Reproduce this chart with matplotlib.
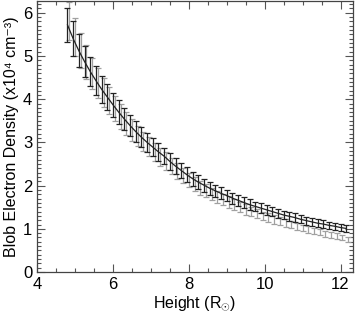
import matplotlib
matplotlib.use('Agg')
import matplotlib.pyplot as plt
from matplotlib.ticker import MultipleLocator

plt.rcParams['font.family'] = ['Liberation Sans', 'DejaVu Sans']
plt.rcParams['mathtext.fontset'] = 'custom'
plt.rcParams['mathtext.rm'] = 'Liberation Sans'
plt.rcParams['mathtext.it'] = 'Liberation Sans'

# black series (heights in solar radii, density in 1e4 cm^-3)
height_black = [4.80, 4.95, 5.10, 5.25, 5.40, 5.55, 5.70, 5.85, 6.00, 6.15,
                6.30, 6.45, 6.60, 6.75, 6.90, 7.05, 7.20, 7.35, 7.50, 7.65,
                7.80, 7.95, 8.10, 8.25, 8.40, 8.55, 8.70, 8.85, 9.00, 9.15,
                9.30, 9.45, 9.60, 9.75, 9.90, 10.05, 10.20, 10.35, 10.50, 10.65,
                10.80, 10.95, 11.10, 11.25, 11.40, 11.55, 11.70, 11.85, 12.00, 12.15]
density_black = [5.72, 5.40, 5.12, 4.87, 4.64, 4.43, 4.23, 4.05, 3.87, 3.70,
                 3.54, 3.39, 3.25, 3.12, 3.00, 2.89, 2.78, 2.68, 2.56, 2.45,
                 2.35, 2.25, 2.16, 2.08, 2.01, 1.94, 1.88, 1.82, 1.77, 1.71,
                 1.66, 1.61, 1.56, 1.52, 1.48, 1.44, 1.40, 1.36, 1.32, 1.29,
                 1.26, 1.22, 1.19, 1.16, 1.13, 1.11, 1.08, 1.06, 1.03, 1.01]
err_black = [0.40, 0.40, 0.38, 0.36, 0.34, 0.33, 0.31, 0.30, 0.28, 0.27,
             0.26, 0.25, 0.24, 0.23, 0.22, 0.21, 0.20, 0.19, 0.19, 0.18,
             0.17, 0.17, 0.16, 0.16, 0.15, 0.15, 0.14, 0.14, 0.13, 0.13,
             0.12, 0.12, 0.12, 0.11, 0.11, 0.11, 0.11, 0.10, 0.10, 0.10,
             0.10, 0.09, 0.09, 0.09, 0.09, 0.09, 0.08, 0.08, 0.08, 0.08]

# grey series
height_grey = [4.85, 5.00, 5.15, 5.30, 5.45, 5.60, 5.75, 5.90, 6.05, 6.20,
               6.35, 6.50, 6.65, 6.80, 6.95, 7.10, 7.25, 7.40, 7.55, 7.70,
               7.85, 8.00, 8.15, 8.30, 8.45, 8.60, 8.75, 8.90, 9.05, 9.20,
               9.35, 9.50, 9.65, 9.80, 9.95, 10.10, 10.25, 10.40, 10.55, 10.70,
               10.85, 11.00, 11.15, 11.30, 11.45, 11.60, 11.75, 11.90, 12.05, 12.20]
density_grey = [5.80, 5.44, 5.13, 4.86, 4.60, 4.37, 4.16, 3.97, 3.78, 3.60,
                3.44, 3.29, 3.15, 3.02, 2.90, 2.78, 2.67, 2.57, 2.45, 2.34,
                2.23, 2.13, 2.04, 1.95, 1.88, 1.81, 1.74, 1.68, 1.62, 1.56,
                1.50, 1.45, 1.40, 1.35, 1.30, 1.26, 1.22, 1.18, 1.14, 1.10,
                1.06, 1.02, 0.99, 0.95, 0.92, 0.89, 0.86, 0.83, 0.80, 0.76]
err_grey = [0.44, 0.43, 0.41, 0.39, 0.36, 0.34, 0.33, 0.31, 0.29, 0.28,
            0.27, 0.26, 0.24, 0.23, 0.22, 0.21, 0.21, 0.20, 0.19, 0.18,
            0.18, 0.17, 0.16, 0.16, 0.15, 0.14, 0.14, 0.13, 0.13, 0.12,
            0.12, 0.12, 0.11, 0.11, 0.10, 0.10, 0.10, 0.09, 0.09, 0.09,
            0.08, 0.08, 0.08, 0.08, 0.07, 0.07, 0.07, 0.07, 0.06, 0.06]

fig = plt.figure(figsize=(3.57, 3.16), dpi=100)
ax = fig.add_axes([0.104, 0.139, 0.885, 0.859])

ax.errorbar(height_grey, density_grey, yerr=err_grey, color='#a0a0a0',
            linestyle='none', elinewidth=0.9, capsize=2.2, capthick=0.9)
ax.errorbar(height_black, density_black, yerr=err_black, color='#222222',
            linewidth=0.9, elinewidth=0.9, capsize=2.2, capthick=0.9)

ax.set_xlim(4, 12.33)
ax.set_ylim(0, 6.28)

ax.xaxis.set_major_locator(MultipleLocator(2))
ax.xaxis.set_minor_locator(MultipleLocator(0.5))
ax.yaxis.set_major_locator(MultipleLocator(1))
ax.yaxis.set_minor_locator(MultipleLocator(0.1))

ax.tick_params(which='both', direction='in', top=True, right=True,
               color='#555555', width=0.8, labelsize=12)
ax.tick_params(which='major', length=6)
ax.tick_params(which='minor', length=3)
for s in ax.spines.values():
    s.set_color('#444444')
    s.set_linewidth(0.9)

ax.set_xlabel(r'Height (R$_{\odot}$)', fontsize=11.5, labelpad=2)
ax.set_ylabel('Blob Electron Density (x10⁴ cm⁻³)', fontsize=11.5)
ax.yaxis.set_label_coords(-0.057, 0.5)

fig.savefig('out.png', dpi=100)
